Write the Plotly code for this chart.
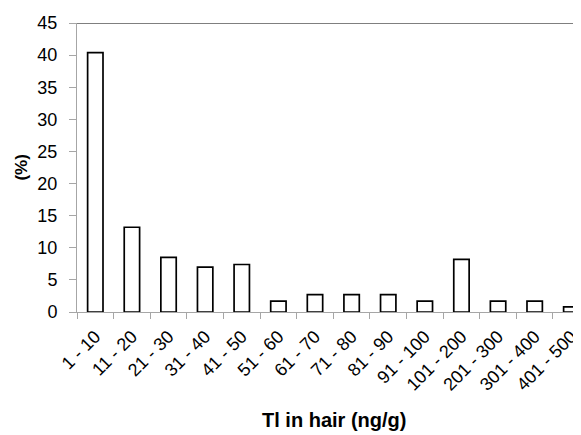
import plotly.graph_objects as go

categories = ["1 - 10", "11 - 20", "21 - 30", "31 - 40", "41 - 50", "51 - 60",
              "61 - 70", "71 - 80", "81 - 90", "91 - 100", "101 - 200",
              "201 - 300", "301 - 400", "401 - 500"]
percent = [40.4, 13.2, 8.5, 7.0, 7.4, 1.7, 2.7, 2.7, 2.7, 1.7, 8.2, 1.7, 1.7, 0.8]
y_ticks = [0, 5, 10, 15, 20, 25, 30, 35, 40, 45]
x_title = "Tl in hair (ng/g)"
y_title = "(%)"

font = "Liberation Sans, Arial, sans-serif"

fig = go.Figure()
fig.add_trace(go.Bar(
    x=categories, y=percent,
    marker=dict(color="white", line=dict(color="black", width=1.7)),
    width=0.42,
))

# page body has an 8px default margin, so the figure is sized to fit
fig.update_layout(
    width=573, height=427,
    margin=dict(l=69, r=0, t=15, b=123, autoexpand=False),
    paper_bgcolor="white", plot_bgcolor="white",
    showlegend=False,
    font=dict(family=font, size=16, color="black"),
    xaxis=dict(
        type="category",
        range=[-0.5, 13.265],
        tickson="boundaries",
        ticks="outside", ticklen=6, tickcolor="#a6a6a6", tickwidth=1,
        showline=True, linecolor="#a6a6a6", linewidth=1,
        showgrid=False, zeroline=False,
        tickangle=-45, automargin=False,
        ticklabelstandoff=6,
        tickfont=dict(family=font, size=18, color="black"),
    ),
    yaxis=dict(
        range=[0, 45],
        tickvals=y_ticks,
        ticks="outside", ticklen=7, tickcolor="#a6a6a6", tickwidth=1,
        showline=True, linecolor="#a6a6a6", linewidth=1,
        showgrid=False, zeroline=False, automargin=False,
        ticklabelstandoff=8,
        tickfont=dict(family=font, size=18, color="black"),
    ),
    shapes=[dict(type="line", xref="paper", yref="y", x0=0, x1=1, y0=45, y1=45,
                 line=dict(color="black", width=1))],
    annotations=[
        dict(text="<b>" + x_title + "</b>", xref="paper", yref="paper",
             x=0.51, y=-0.375, xanchor="center", yanchor="middle",
             showarrow=False, font=dict(family=font, size=20, color="black")),
        dict(text="<b>" + y_title + "</b>", xref="paper", yref="paper",
             x=-0.111, y=0.5, xanchor="center", yanchor="middle", textangle=-90,
             showarrow=False, font=dict(family=font, size=17, color="black")),
    ],
)

fig.write_html("out.html")
